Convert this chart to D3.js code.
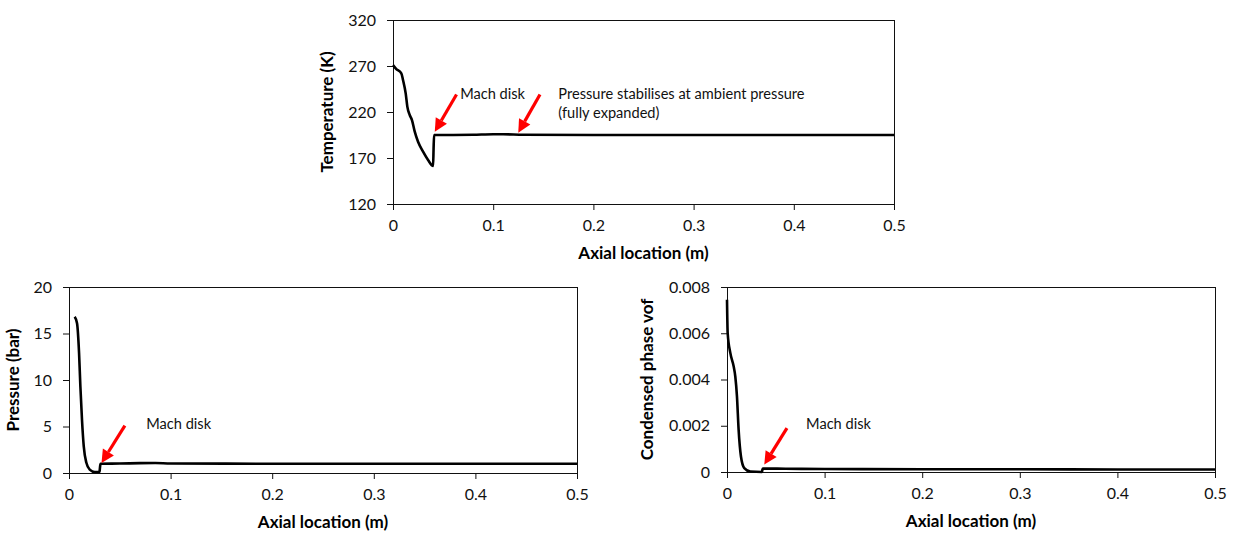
<!DOCTYPE html>
<html>
<head>
<meta charset="utf-8">
<script src="https://cdn.jsdelivr.net/npm/d3@7"></script>
<style>
  body { margin: 0; background: #fff; }
  svg { font-family: Lato, "Open Sans", sans-serif; }
</style>
</head>
<body>
<svg width="1238" height="533"></svg>
<script>
// temperature along the axis
const tempX = [0, 0.0033, 0.0083, 0.010, 0.0127, 0.0143, 0.0167, 0.019, 0.0217, 0.025, 0.030, 0.035, 0.040, 0.0405, 0.041, 0.06, 0.08, 0.10, 0.11, 0.13, 0.2, 0.3, 0.4, 0.5];
const tempY = [271, 266.7, 262, 254.8, 240, 225.8, 216.7, 211, 198.6, 187.7, 176.8, 167.8, 161.3, 180, 195, 195, 195.2, 195.8, 195.8, 195.2, 195, 195, 195, 195];
const tempTicksY = [120, 170, 220, 270, 320];

// pressure along the axis
const presX = [0.0056, 0.0079, 0.0099, 0.0112, 0.0128, 0.0145, 0.0171, 0.0204, 0.0254, 0.030, 0.0305, 0.031, 0.05, 0.07, 0.085, 0.1, 0.2, 0.3, 0.4, 0.5];
const presY = [16.8, 16.1, 12.9, 9.3, 5.7, 2.9, 1.1, 0.36, 0.1, 0.1, 0.6, 1.0, 1.02, 1.06, 1.07, 1.02, 1.0, 1.0, 1.0, 1.0];
const presTicksY = [0, 5, 10, 15, 20];

// condensed phase volume fraction
const vofX = [0, 0.0007, 0.0034, 0.0068, 0.0085, 0.0102, 0.0119, 0.0143, 0.0177, 0.0239, 0.0358, 0.0363, 0.0368, 0.06, 0.1, 0.2, 0.3, 0.4, 0.5];
const vofY = [0.00745, 0.0060, 0.00515, 0.00457, 0.00413, 0.00327, 0.00183, 0.00067, 0.00017, 0.00002, 0.0, 0.0001, 0.00015, 0.00014, 0.00013, 0.00012, 0.00012, 0.00011, 0.00011];
const vofTicksY = [0, 0.002, 0.004, 0.006, 0.008];

const axialTicks = [0, 0.1, 0.2, 0.3, 0.4, 0.5];

const svg = d3.select("svg");

function drawPanel(cfg) {
    const g = svg.append("g");
    const x = d3.scaleLinear().domain([0, 0.5]).range([cfg.left, cfg.right]);
    const y = d3.scaleLinear().domain(cfg.yDomain).range([cfg.bottom, cfg.top]);

    // plot box
    g.append("rect")
        .attr("x", cfg.left + 0.5).attr("y", cfg.top + 0.5)
        .attr("width", cfg.right - cfg.left).attr("height", cfg.bottom - cfg.top)
        .attr("fill", "none").attr("stroke", "#111").attr("stroke-width", 1);

    const xAxis = g.append("g")
        .attr("transform", `translate(0,${cfg.bottom})`)
        .call(d3.axisBottom(x).tickValues(axialTicks).tickSize(6).tickPadding(10)
            .tickFormat(d => d === 0 ? "0" : d3.format("")(d)));
    const yAxis = g.append("g")
        .attr("transform", `translate(${cfg.left},0)`)
        .call(d3.axisLeft(y).tickValues(cfg.yTicks).tickSize(6).tickPadding(11)
            .tickFormat(cfg.yFormat));
    [xAxis, yAxis].forEach(a => {
        a.select(".domain").attr("stroke", "#111");
        a.selectAll(".tick line").attr("stroke", "#111");
        a.selectAll("text").attr("font-size", "16px").attr("fill", "#111")
            .attr("font-family", "Lato, sans-serif");
    });

    // axis titles
    g.append("text")
        .attr("x", (cfg.left + cfg.right) / 2)
        .attr("y", cfg.bottom + 55)
        .attr("text-anchor", "middle")
        .attr("font-weight", "bold")
        .attr("font-size", "17px")
        .text("Axial location (m)");
    g.append("text")
        .attr("transform", `translate(${cfg.titleX},${(cfg.top + cfg.bottom) / 2}) rotate(-90)`)
        .attr("text-anchor", "middle")
        .attr("font-weight", "bold")
        .attr("font-size", "17px")
        .text(cfg.yTitle);

    // data line
    const line = d3.line().x((d, i) => x(cfg.xs[i])).y(d => y(d)).curve(d3.curveMonotoneX);
    g.append("path")
        .datum(cfg.ys)
        .attr("d", line)
        .attr("fill", "none")
        .attr("stroke", "#000")
        .attr("stroke-width", 2.6)
        .attr("stroke-linejoin", "round");

    // red arrows
    cfg.arrows.forEach(a => {
        const x0 = x(a.from[0]), y0 = y(a.from[1]);
        const x1 = x(a.to[0]), y1 = y(a.to[1]);
        const ang = Math.atan2(y1 - y0, x1 - x0);
        const hl = 13, hw = 6.5;
        const bx = x1 - hl * Math.cos(ang), by = y1 - hl * Math.sin(ang);
        g.append("line")
            .attr("x1", x0).attr("y1", y0).attr("x2", bx).attr("y2", by)
            .attr("stroke", "#ff0000").attr("stroke-width", 3.2);
        const px = -Math.sin(ang) * hw, py = Math.cos(ang) * hw;
        g.append("path")
            .attr("d", `M${x1},${y1}L${bx + px},${by + py}L${bx - px},${by - py}Z`)
            .attr("fill", "#ff0000");
    });

    // annotation texts
    cfg.notes.forEach(n => {
        const t = g.append("text")
            .attr("x", x(n.at[0]))
            .attr("y", y(n.at[1]))
            .attr("font-size", "14.6px")
            .attr("fill", "#111");
        n.lines.forEach((s, i) => {
            t.append("tspan").attr("x", x(n.at[0])).attr("dy", i === 0 ? "0.35em" : "1.35em").text(s);
        });
    });
}

drawPanel({
    left: 393, right: 894, top: 20, bottom: 204,
    yDomain: [120, 320], yTicks: tempTicksY, yFormat: d3.format("d"),
    yTitle: "Temperature (K)", titleX: 333,
    xs: tempX, ys: tempY,
    arrows: [
        { from: [0.0634, 239], to: [0.0417, 198.6] },
        { from: [0.1467, 239], to: [0.125, 197.5] }
    ],
    notes: [
        { at: [0.067, 240], lines: ["Mach disk"] },
        { at: [0.165, 240], lines: ["Pressure stabilises at ambient pressure", "(fully expanded)"] }
    ]
});

drawPanel({
    left: 69, right: 577, top: 287, bottom: 473,
    yDomain: [0, 20], yTicks: presTicksY, yFormat: d3.format("d"),
    yTitle: "Pressure (bar)", titleX: 19,
    xs: presX, ys: presY,
    arrows: [{ from: [0.055, 5.1], to: [0.032, 1.07] }],
    notes: [{ at: [0.076, 5.3], lines: ["Mach disk"] }]
});

drawPanel({
    left: 727, right: 1215, top: 287, bottom: 472,
    yDomain: [0, 0.008], yTicks: vofTicksY, yFormat: d => d === 0 ? "0" : d3.format(".3f")(d),
    yTitle: "Condensed phase vof", titleX: 653,
    xs: vofX, ys: vofY,
    arrows: [{ from: [0.0614, 0.0019], to: [0.0382, 0.00032] }],
    notes: [{ at: [0.081, 0.00209], lines: ["Mach disk"] }]
});
</script>
</body>
</html>
